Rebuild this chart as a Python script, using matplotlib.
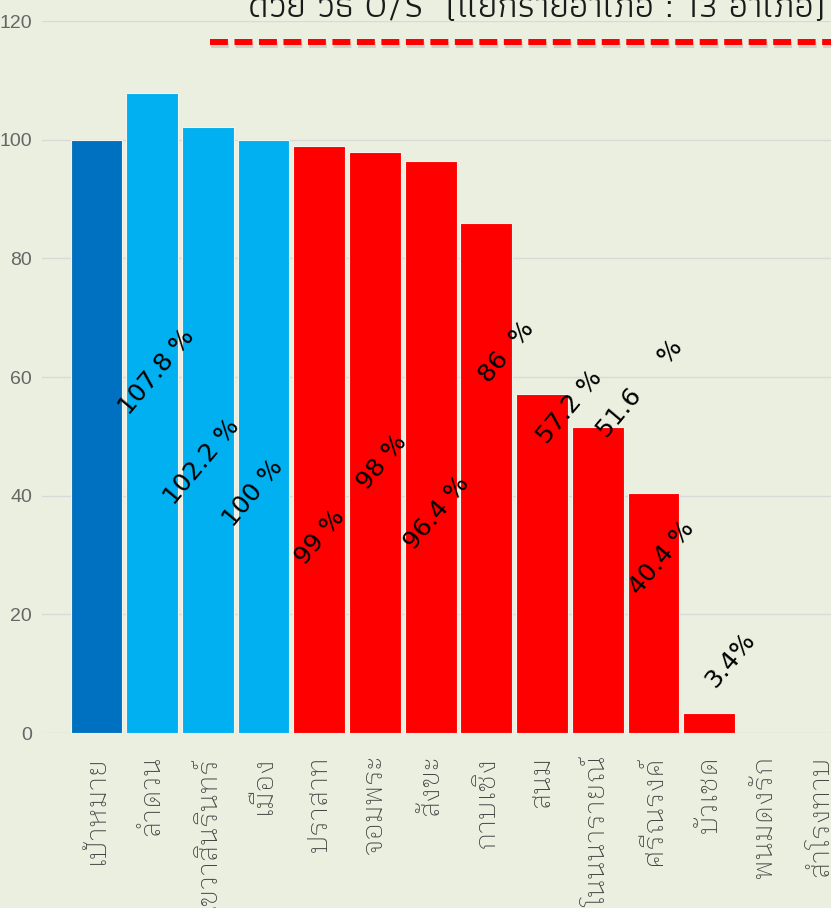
import matplotlib

matplotlib.use("Agg")
import matplotlib.pyplot as plt
import matplotlib.patheffects as pe
from matplotlib.lines import Line2D

BG = "#EBEFDF"
DARK_BLUE = "#0070C0"
LIGHT_BLUE = "#00B0F0"
RED = "#FF0000"

districts = ["เป้าหมาย", "ลำดวน", "เขวาสินรินทร์", "เมือง", "ปราสาท", "จอมพระ", "สังขะ",
             "กาบเชิง", "สนม", "โนนนารายณ์", "ศรีณรงค์", "บัวเชด", "พนมดงรัก", "สำโรงทาบ"]
values = [100, 107.8, 102.2, 100, 99, 98, 96.4, 86, 57.2, 51.6, 40.4, 3.4, 0, 0]
bar_colors = [DARK_BLUE] + [LIGHT_BLUE] * 3 + [RED] * 10

# hand-placed percentage labels (as on the original slide)
label_texts = ["107.8 %", "102.2 %", "100 %", "99 %", "98 %", "96.4 %", "86  %",
               "57.2 %", "51.6     %", "40.4 %", "3.4%"]
label_x = [1.08, 1.89, 2.81, 4.01, 5.12, 6.11, 7.36, 8.50, 9.76, 10.15, 11.37]
label_y = [60.9, 45.7, 40.5, 33.0, 45.7, 37.1, 64.3, 55.0, 58.1, 29.5, 12.3]

THAI = ["IBM Plex Sans Thai Looped", "DejaVu Sans"]

fig = plt.figure(figsize=(8.31, 9.08), dpi=100, facecolor=BG)
ax = fig.add_axes([0.0505, 0.1927, 0.9495, 0.7841])
ax.set_facecolor(BG)

x = range(len(districts))
ax.bar(x, values, 0.93, color=bar_colors, edgecolor="#F4F4EE", linewidth=0.8, zorder=2)

ax.set_xlim(-0.978, 13.187)
ax.set_ylim(0, 120)
ax.set_yticks(range(0, 121, 20))
ax.grid(axis="y", color="#D9D9D9", linewidth=1, zorder=0)
ax.set_axisbelow(True)
for s in ax.spines.values():
    s.set_visible(False)
ax.tick_params(length=0)
ax.tick_params(axis="y", pad=7, labelsize=14, labelcolor="#666666")
for t in ax.get_yticklabels():
    t.set_fontfamily("Liberation Sans")

ax.set_xticks(list(x))
ax.set_xticklabels(districts, rotation=90, fontsize=20, color="#404040", family=THAI)
ax.tick_params(axis="x", pad=16)
for t in ax.get_xticklabels():
    t.set_fontweight("light")

for txt, lx, ly in zip(label_texts, label_x, label_y):
    ax.text(lx, ly, txt, rotation=50, ha="center", va="center", fontsize=18,
            color="black", family="DejaVu Sans", zorder=3)

# title of the slide, cut by the top edge
fig.text(0.994, 1 - 17 / 908, "ด้วย วิธี O/S  (แยกรายอำเภอ : 13 อำเภอ)", ha="right",
         va="baseline", fontsize=26.5, color="#1a1a1a", family=["Athiti", "DejaVu Sans"])

line = Line2D([210 / 831, 1.0], [1 - 42 / 908] * 2, transform=fig.transFigure,
              color=RED, lw=4.3, linestyle=(0, (3.0, 1.1)), solid_capstyle="butt",
              dash_capstyle="butt",
              path_effects=[pe.SimpleLineShadow(offset=(1, -2.5), shadow_color="#666666", alpha=0.22),
                            pe.Normal()])
fig.add_artist(line)

fig.savefig("out.png", dpi=100, facecolor=BG)
